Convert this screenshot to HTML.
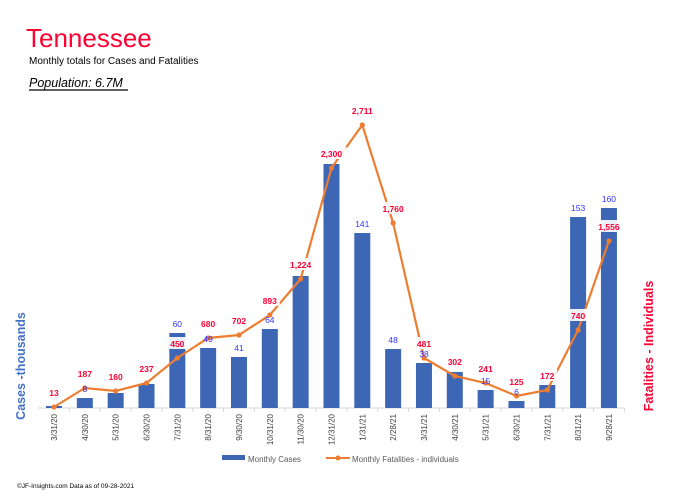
<!DOCTYPE html>
<html><head><meta charset="utf-8"><style>
html,body{margin:0;padding:0;background:#fff;width:684px;height:496px;overflow:hidden}
svg{display:block;font-family:"Liberation Sans",sans-serif}
</style></head><body>
<svg id="c" width="684" height="496" xmlns="http://www.w3.org/2000/svg">
<text x="26" y="47" font-size="26" fill="#ff0033">Tennessee</text>
<text x="29" y="64" font-size="10" fill="#000">Monthly totals for Cases and Fatalities</text>
<text x="29" y="87" font-size="12.5" font-style="italic" fill="#000">Population: 6.7M</text>
<line x1="29" y1="90" x2="128" y2="90" stroke="#000" stroke-width="1.3"/>
<text transform="translate(25,366) rotate(-90)" font-size="12.5" font-weight="bold" fill="#4472c4" text-anchor="middle">Cases -thousands</text>
<text transform="translate(653,346) rotate(-90)" font-size="12.5" font-weight="bold" fill="#ff0033" text-anchor="middle">Fatalities - Individuals</text>
<line x1="38" y1="408" x2="625" y2="408" stroke="#d9d9d9" stroke-width="1"/>
<rect x="222" y="455" width="23" height="5" fill="#3d66b5"/>
<text x="248" y="462" font-size="8" fill="#595959">Monthly Cases</text>
<line x1="326" y1="458" x2="350" y2="458" stroke="#ed7d31" stroke-width="2"/>
<circle cx="338" cy="458" r="2.5" fill="#ed7d31"/>
<text x="352" y="462" font-size="8" fill="#595959">Monthly Fatalities - individuals</text>
<text x="17" y="488" font-size="6.5" fill="#000">©JF-Insights.com  Data as of 09-28-2021</text>
<g id="g"></g>
</svg>
<script>
var d=["3/31/20","4/30/20","5/31/20","6/30/20","7/31/20","8/31/20","9/30/20","10/31/20","11/30/20","12/31/20","1/31/21","2/28/21","3/31/21","4/30/21","5/31/21","6/30/21","7/31/21","8/31/21","9/28/21"];
var tops=[406,398,393,384,333,348,357,329,276,164,233,349,363,372,390,401,385,217,208];
var cl=["","8","","","60","49","41","64","109","206","141","48","38","35","15","6","26","153","160"];
var fy=[407,388,391,383,358,338,335,315,279,168,125,223,358,376,383,396,390,330,241];
var fl=["13","187","160","237","450","680","702","893","1,224","2,300","2,711","1,760","481","302","241","125","172","740","1,556"];
var s="",pts=[];
for(var i=0;i<19;i++){var x=54+i*30.83;
s+='<rect x="'+(x-8)+'" y="'+tops[i]+'" width="16" height="'+(408-tops[i])+'" fill="#3d66b5"/>';
s+='<line x1="'+(x+15.4)+'" y1="408" x2="'+(x+15.4)+'" y2="412" stroke="#d9d9d9"/>';
s+='<text transform="translate('+(x+3)+',414) rotate(-90)" font-size="8" fill="#404040" text-anchor="end">'+d[i]+'</text>';
pts.push(x+","+fy[i]);}
s+='<polyline points="'+pts.join(" ")+'" fill="none" stroke="#ed7d31" stroke-width="2.2"/>';
for(var i=0;i<19;i++){var x=54+i*30.83;
s+='<circle cx="'+x+'" cy="'+fy[i]+'" r="2.6" fill="#ed7d31"/>';
if(cl[i]){var ly=tops[i]-6;s+='<text x="'+x+'" y="'+ly+'" font-size="8.5" fill="#3333ff" text-anchor="middle">'+cl[i]+'</text>';}
var w=fl[i].length*5.3+4;
s+='<rect x="'+(x-w/2)+'" y="'+(fy[i]-21)+'" width="'+w+'" height="12" fill="#fff" opacity="0.9"/>';
s+='<text x="'+x+'" y="'+(fy[i]-11)+'" font-size="8.5" font-weight="bold" fill="#ff0033" text-anchor="middle">'+fl[i]+'</text>';}
document.getElementById("g").innerHTML=s;
</script>
</body></html>
